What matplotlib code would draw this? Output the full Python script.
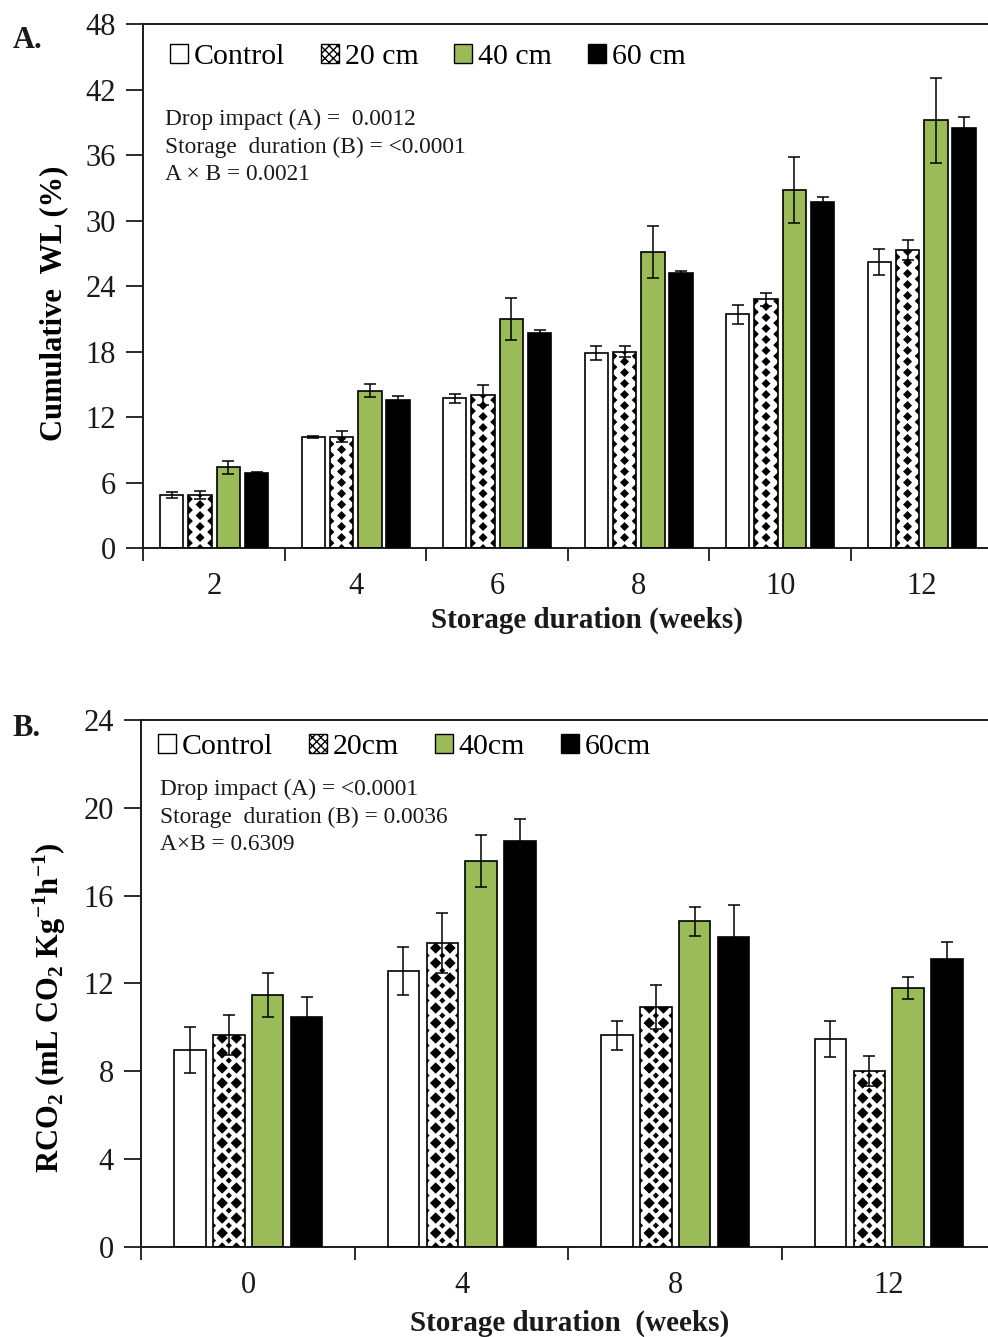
import numpy as np
import matplotlib
matplotlib.use('Agg')
from matplotlib import pyplot as plt
from matplotlib.patches import Patch

plt.rcParams['font.family'] = 'Liberation Serif'
plt.rcParams['mathtext.fontset'] = 'custom'
plt.rcParams['mathtext.rm'] = 'Liberation Serif'
plt.rcParams['mathtext.bf'] = 'Liberation Serif:bold'
plt.rcParams['hatch.linewidth'] = 1.0

GREEN = '#9BBB59'
INK = '#1a1a1a'

# A: cumulative weight loss (%)
weeks_a = ['2', '4', '6', '8', '10', '12']
wl_control = [4.85, 10.2, 13.7, 17.85, 21.4, 26.2]
wl_control_se = [0.3, 0.1, 0.4, 0.65, 0.85, 1.2]
wl_20 = [4.85, 10.2, 14.0, 18.0, 22.8, 27.3]
wl_20_se = [0.35, 0.5, 0.9, 0.5, 0.6, 0.9]
wl_40 = [7.4, 14.4, 21.0, 27.1, 32.8, 39.2]
wl_40_se = [0.6, 0.6, 1.9, 2.4, 3.0, 3.9]
wl_60 = [6.9, 13.55, 19.7, 25.2, 31.7, 38.5]
wl_60_se = [0.1, 0.35, 0.3, 0.15, 0.5, 1.0]

# B: respiration rate (mL CO2 kg-1 h-1)
weeks_b = ['0', '4', '8', '12']
rco2_control = [8.97, 12.57, 9.64, 9.47]
rco2_control_se = [1.05, 1.1, 0.65, 0.8]
rco2_20 = [9.65, 13.84, 10.93, 8.01]
rco2_20_se = [0.9, 1.35, 1.0, 0.7]
rco2_40 = [11.47, 17.58, 14.83, 11.8]
rco2_40_se = [1.0, 1.2, 0.65, 0.5]
rco2_60 = [10.47, 18.49, 14.13, 13.1]
rco2_60_se = [0.9, 1.0, 1.45, 0.8]


def diamond_fill(ax, bar, cols, pitch, phase):
    # black diamond checker laid out in pixels, clipped to the bar outline
    (x0, y0), (x1, y1) = ax.transData.transform(
        [(bar.get_x(), bar.get_y()),
         (bar.get_x() + bar.get_width(), bar.get_y() + bar.get_height())])
    pts, sizes = [], []
    for frac, shift, size in cols:
        y = y0 + phase + shift * pitch
        while y < y1 + pitch:
            pts.append((x0 + frac * (x1 - x0), y))
            sizes.append(size)
            y += pitch
    xy = ax.transData.inverted().transform(pts)
    sc = ax.scatter(xy[:, 0], xy[:, 1], s=sizes, marker='D', c='black',
                    linewidths=0, zorder=2)
    sc.set_clip_path(bar)


def draw_panel(ax, groups, series, errors, width, step, ymax, ystep, cols, pitch, phase):
    x = np.arange(len(groups))
    ax.set_xlim(-0.5, len(groups) - 0.5)
    ax.set_ylim(0, ymax)
    faces = ['white', 'white', GREEN, 'black']
    for k in range(4):
        pos = x + (k - 1.5) * step
        bars = ax.bar(pos, series[k], width, color=faces[k], edgecolor='none', zorder=1)
        if k == 1:
            for b in bars:
                diamond_fill(ax, b, cols, pitch, phase)
        ax.bar(pos, series[k], width, facecolor='none', edgecolor='black',
               linewidth=1.2, zorder=3)
        ax.errorbar(pos, series[k], yerr=errors[k], fmt='none', ecolor='black',
                    elinewidth=1.1, capsize=4.5, capthick=1.1, zorder=4)

    ax.set_xticks(x, groups)
    ax.set_xticks(np.arange(len(groups) + 1) - 0.5, minor=True)
    ax.set_yticks(np.arange(0, ymax + 1, ystep))
    ax.tick_params(axis='x', which='major', length=0, pad=17, labelsize=22, colors=INK)
    ax.tick_params(axis='x', which='minor', direction='out', length=9, width=1.3, color=INK)
    ax.tick_params(axis='y', direction='out', length=12, width=1.3, pad=8,
                   labelsize=22, colors=INK)
    ax.spines['right'].set_visible(False)
    for side in ['left', 'bottom', 'top']:
        ax.spines[side].set_color(INK)
        ax.spines[side].set_linewidth(1.4)


def legend_handles():
    return [Patch(facecolor='white', edgecolor='black', linewidth=1.0),
            Patch(facecolor='white', edgecolor='black', linewidth=1.0, hatch='xxxx'),
            Patch(facecolor=GREEN, edgecolor='black', linewidth=1.0),
            Patch(facecolor='black', edgecolor='black', linewidth=1.0)]


fig = plt.figure(figsize=(9.88, 13.37), dpi=100)

# Panel A
ax1 = fig.add_axes([0.1452, 0.5901, 0.8593, 0.3919])
draw_panel(ax1, weeks_a, [wl_control, wl_20, wl_40, wl_60],
           [wl_control_se, wl_20_se, wl_40_se, wl_60_se],
           width=0.165, step=0.2, ymax=48, ystep=6,
           cols=[(0.5, 0.0, 21), (0.0, 0.5, 21), (1.0, 0.5, 21)], pitch=11, phase=-0.5)
ax1.set_ylabel('Cumulative  WL (%)', fontsize=22, fontweight='bold', va='center')
ax1.yaxis.set_label_coords(-0.106, 0.468)
ax1.legend(legend_handles(), ['Control', '20 cm', '40 cm', '60 cm'], ncol=4,
           loc='upper left', bbox_to_anchor=(0.031, 0.962), frameon=False,
           fontsize=21.5, handlelength=0.6, handleheight=0.6, handletextpad=0.2,
           columnspacing=1.2, borderaxespad=0, borderpad=0)
ax1.text(0.0253, 0.838, 'Drop impact (A) =  0.0012\nStorage  duration (B) = <0.0001\n'
         'A \u00d7 B = 0.0021', transform=ax1.transAxes, va='top', ha='left',
         fontsize=16.8, linespacing=1.4, color=INK)
fig.text(587 / 988, 1 - 620 / 1337, 'Storage duration (weeks)', ha='center', va='center',
         fontsize=21, fontweight='bold', color=INK)
fig.text(0.013, 1 - 40 / 1337, 'A.', ha='left', va='center', fontsize=22,
         fontweight='bold', color=INK)

# Panel B
ax2 = fig.add_axes([0.1432, 0.0673, 0.8644, 0.3942])
draw_panel(ax2, weeks_b, [rco2_control, rco2_20, rco2_40, rco2_60],
           [rco2_control_se, rco2_20_se, rco2_40_se, rco2_60_se],
           width=0.148, step=0.182, ymax=24, ystep=4,
           cols=[(0.29, 0.0, 34), (0.74, 0.0, 34), (0.0, 0.5, 10), (0.5, 0.5, 10),
                 (1.0, 0.5, 10)], pitch=15, phase=-1)
ax2.set_ylabel(r'RCO$_\mathbf{2}$ (mL CO$_\mathbf{2}$ Kg$^\mathbf{-1}$h$^\mathbf{-1}$)',
               fontsize=22, fontweight='bold', va='center')
ax2.yaxis.set_label_coords(-0.108, 0.455)
ax2.legend(legend_handles(), ['Control', '20cm', '40cm', '60cm'], ncol=4,
           loc='upper left', bbox_to_anchor=(0.019, 0.973), frameon=False,
           fontsize=21.5, handlelength=0.6, handleheight=0.6, handletextpad=0.2,
           columnspacing=1.2, borderaxespad=0, borderpad=0)
ax2.text(0.0217, 0.888, 'Drop impact (A) = <0.0001\nStorage  duration (B) = 0.0036\n'
         'A\u00d7B = 0.6309', transform=ax2.transAxes, va='top', ha='left',
         fontsize=16.8, linespacing=1.4, color=INK)
fig.text(570 / 988, 1 - 1323 / 1337, 'Storage duration  (weeks)', ha='center', va='center',
         fontsize=21, fontweight='bold', color=INK)
fig.text(0.013, 1 - 728 / 1337, 'B.', ha='left', va='center', fontsize=22,
         fontweight='bold', color=INK)

fig.savefig('out.png', dpi=100)
